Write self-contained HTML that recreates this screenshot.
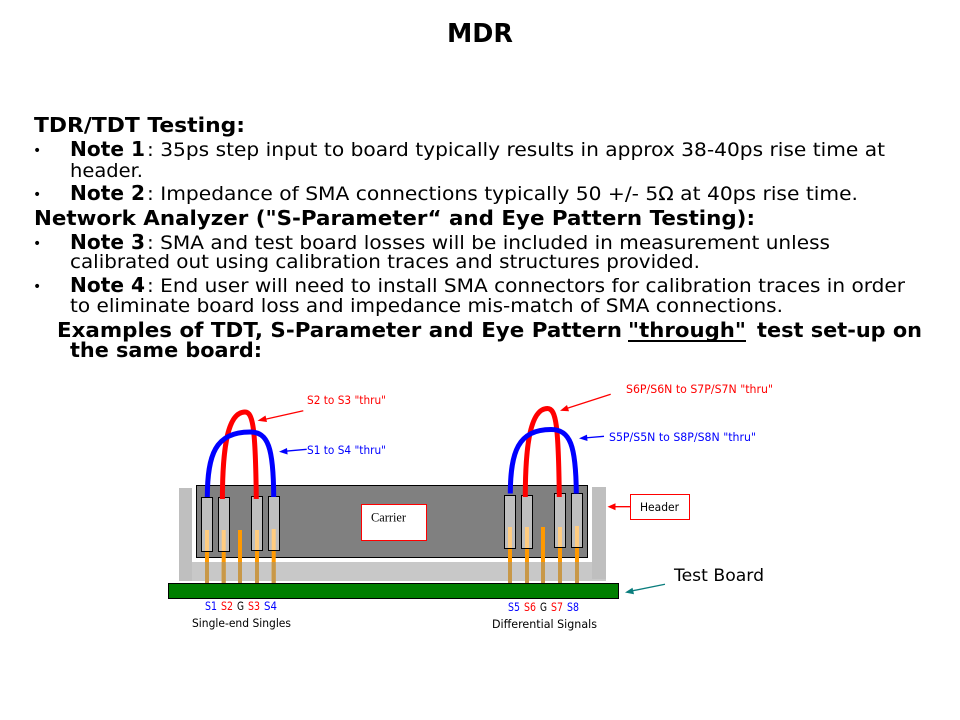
<!DOCTYPE html>
<html><head><meta charset="utf-8"><style>
html,body{margin:0;padding:0;background:#fff;width:960px;height:720px;overflow:hidden}
svg{display:block}
text{font-family:"DejaVu Sans","Liberation Sans",sans-serif;fill:#000}
.h{font-size:20px;font-weight:bold}
.t{font-size:19px}
.b{font-size:14px}
.s{font-size:11.5px}
</style></head><body>
<svg width="960" height="720" viewBox="0 0 960 720" xmlns="http://www.w3.org/2000/svg">

<text x="447" y="42" class="h" style="font-size:26px" textLength="66" lengthAdjust="spacingAndGlyphs">MDR</text>

<text x="34" y="132" class="h" textLength="211" lengthAdjust="spacingAndGlyphs">TDR/TDT Testing:</text>
<text x="33" y="155" class="b">•</text>
<text x="70" y="156" class="h" textLength="75" lengthAdjust="spacingAndGlyphs">Note 1</text>
<text x="147" y="156" class="t" textLength="738" lengthAdjust="spacingAndGlyphs">: 35ps step input to board typically results in approx 38-40ps rise time at</text>
<text x="70" y="177" class="t" textLength="73" lengthAdjust="spacingAndGlyphs">header.</text>
<text x="33" y="199" class="b">•</text>
<text x="70" y="200" class="h" textLength="75" lengthAdjust="spacingAndGlyphs">Note 2</text>
<text x="147" y="200" class="t" textLength="711" lengthAdjust="spacingAndGlyphs">: Impedance of SMA connections typically 50 +/- 5Ω at 40ps rise time.</text>
<text x="34" y="225" class="h" textLength="721" lengthAdjust="spacingAndGlyphs">Network Analyzer ("S-Parameter“ and Eye Pattern Testing):</text>
<text x="33" y="248" class="b">•</text>
<text x="70" y="249" class="h" textLength="75" lengthAdjust="spacingAndGlyphs">Note 3</text>
<text x="147" y="249" class="t" textLength="683" lengthAdjust="spacingAndGlyphs">: SMA and test board losses will be included in measurement unless</text>
<text x="70" y="268" class="t" textLength="630" lengthAdjust="spacingAndGlyphs">calibrated out using calibration traces and structures provided.</text>
<text x="33" y="291" class="b">•</text>
<text x="70" y="292" class="h" textLength="75" lengthAdjust="spacingAndGlyphs">Note 4</text>
<text x="147" y="292" class="t" textLength="758" lengthAdjust="spacingAndGlyphs">: End user will need to install SMA connectors for calibration traces in order</text>
<text x="70" y="312" class="t" textLength="713" lengthAdjust="spacingAndGlyphs">to eliminate board loss and impedance mis-match of SMA connections.</text>
<text x="57" y="337" class="h" textLength="565" lengthAdjust="spacingAndGlyphs">Examples of TDT, S-Parameter and Eye Pattern</text>
<text x="628" y="337" class="h" textLength="118" lengthAdjust="spacingAndGlyphs">"through"</text>
<rect x="628" y="340" width="118" height="2" fill="#000"/>
<text x="757" y="337" class="h" textLength="165" lengthAdjust="spacingAndGlyphs">test set-up on</text>
<text x="70" y="357" class="h" textLength="192" lengthAdjust="spacingAndGlyphs">the same board:</text>

<!-- base -->
<rect x="179" y="488" width="13" height="93" fill="#bfbfbf"/>
<rect x="192" y="562" width="414" height="19" fill="#c8c8c8"/>
<rect x="592" y="487" width="14" height="92" fill="#bfbfbf"/>
<rect x="196.5" y="485.5" width="391" height="72" fill="#808080" stroke="#000" stroke-width="1"/>
<rect x="168.5" y="583.5" width="450" height="15" fill="#007f00" stroke="#000" stroke-width="1"/>
<rect x="361.5" y="504.5" width="65" height="36" fill="#fff" stroke="#f00" stroke-width="1"/>
<text x="371" y="521.5" style="font-family:'Liberation Serif',serif;font-size:12.5px" textLength="35" lengthAdjust="spacingAndGlyphs">Carrier</text>

<!-- pins -->
<g fill="#bfbfbf" stroke="#000" stroke-width="1">
<rect x="201.5" y="497.5" width="11" height="54"/>
<rect x="218.5" y="497.5" width="11" height="54"/>
<rect x="251.5" y="496.5" width="11" height="54"/>
<rect x="268.5" y="496.5" width="11" height="54"/>
<rect x="504.5" y="495.5" width="11" height="53"/>
<rect x="521.5" y="495.5" width="11" height="53"/>
<rect x="554.5" y="493.5" width="11" height="54"/>
<rect x="571.5" y="493.5" width="11" height="54"/>
</g>
<g fill="#f90">
<rect x="205" y="552" width="4" height="31"/>
<rect x="221.7" y="552" width="4" height="31"/>
<rect x="238" y="530" width="4" height="53"/>
<rect x="255" y="551" width="4" height="32"/>
<rect x="271.7" y="551" width="4" height="32"/>
<rect x="508" y="549" width="4" height="34"/>
<rect x="525" y="549" width="4" height="34"/>
<rect x="541" y="527" width="4" height="56"/>
<rect x="558" y="548" width="4" height="35"/>
<rect x="575" y="548" width="4" height="35"/>
</g>
<g fill="#ffcc80">
<rect x="205" y="530" width="4" height="21"/>
<rect x="221.7" y="530" width="4" height="21"/>
<rect x="255" y="530" width="4" height="20"/>
<rect x="271.7" y="529" width="4" height="21"/>
<rect x="508" y="527" width="4" height="21"/>
<rect x="525" y="527" width="4" height="21"/>
<rect x="558" y="527" width="4" height="20"/>
<rect x="575" y="526" width="4" height="21"/>
</g>
<g fill="#c89848">
<rect x="205" y="562" width="4" height="21"/>
<rect x="221.7" y="562" width="4" height="21"/>
<rect x="238" y="562" width="4" height="21"/>
<rect x="255" y="562" width="4" height="21"/>
<rect x="271.7" y="562" width="4" height="21"/>
<rect x="508" y="562" width="4" height="21"/>
<rect x="525" y="562" width="4" height="21"/>
<rect x="541" y="562" width="4" height="21"/>
<rect x="558" y="562" width="4" height="21"/>
<rect x="575" y="562" width="4" height="21"/>
</g>

<!-- wires -->
<g fill="none" stroke-width="5">
<path d="M222.4 499C222.5 455 226 412 245 412C253 412 255.5 428 256.3 499" stroke="#f00"/>
<path d="M207.3 497C207.5 455 215 432 250 432C268 432 273.5 447 273.7 497" stroke="#00f"/>
<path d="M525.3 497C525.3 452 529 408.5 547.5 408.5C556 408.5 558.5 425 559.3 497" stroke="#f00"/>
<path d="M510.3 493.5C510.5 452 518 429.5 551 429.5C570 429.5 576 445 576.3 493.5" stroke="#00f"/>
</g>

<!-- arrows -->
<g stroke-width="1.3" fill="none">
<line x1="303.3" y1="410.7" x2="262" y2="420" stroke="#f00"/>
<line x1="306.7" y1="449.3" x2="284" y2="451.3" stroke="#00f"/>
<line x1="610.7" y1="394.3" x2="565" y2="409" stroke="#f00"/>
<line x1="604" y1="436.3" x2="584" y2="438" stroke="#00f"/>
<line x1="630" y1="506.7" x2="612" y2="506.7" stroke="#f00"/>
<line x1="665" y1="584.3" x2="630" y2="591.3" stroke="#0a7d7d"/>
</g>
<polygon points="257.5,420.8 265.5,415.5 267,422" fill="#f00"/>
<polygon points="279,451.8 287,448 287.6,454.5" fill="#00f"/>
<polygon points="560,410.7 567,405 569,411.3" fill="#f00"/>
<polygon points="579,438.4 587,434.6 587.5,441" fill="#00f"/>
<polygon points="607.5,506.7 615.5,503.2 615.5,510.2" fill="#f00"/>
<polygon points="625,592.5 632.5,587.7 634,594.3" fill="#0a7d7d"/>

<rect x="630.5" y="494.5" width="59" height="25" fill="#fff" stroke="#f00" stroke-width="1"/>
<text x="640" y="511" class="s" textLength="39" lengthAdjust="spacingAndGlyphs">Header</text>

<text x="307" y="404" class="s" style="fill:#f00" textLength="79" lengthAdjust="spacingAndGlyphs">S2 to S3 "thru"</text>
<text x="307" y="454" class="s" style="fill:#00f" textLength="79" lengthAdjust="spacingAndGlyphs">S1 to S4 "thru"</text>
<text x="626" y="393" class="s" style="fill:#f00" textLength="147" lengthAdjust="spacingAndGlyphs">S6P/S6N to S7P/S7N "thru"</text>
<text x="609" y="441" class="s" style="fill:#00f" textLength="147" lengthAdjust="spacingAndGlyphs">S5P/S5N to S8P/S8N "thru"</text>
<text x="205" y="610" class="s" style="fill:#00f" textLength="12" lengthAdjust="spacingAndGlyphs">S1</text>
<text x="221" y="610" class="s" style="fill:#f00" textLength="12" lengthAdjust="spacingAndGlyphs">S2</text>
<text x="237" y="610" class="s" textLength="7" lengthAdjust="spacingAndGlyphs">G</text>
<text x="248" y="610" class="s" style="fill:#f00" textLength="12" lengthAdjust="spacingAndGlyphs">S3</text>
<text x="264" y="610" class="s" style="fill:#00f" textLength="13" lengthAdjust="spacingAndGlyphs">S4</text>
<text x="192" y="627" class="s" textLength="99" lengthAdjust="spacingAndGlyphs">Single-end Singles</text>
<text x="508" y="611" class="s" style="fill:#00f" textLength="12" lengthAdjust="spacingAndGlyphs">S5</text>
<text x="524" y="611" class="s" style="fill:#f00" textLength="12" lengthAdjust="spacingAndGlyphs">S6</text>
<text x="540" y="611" class="s" textLength="7" lengthAdjust="spacingAndGlyphs">G</text>
<text x="551" y="611" class="s" style="fill:#f00" textLength="12" lengthAdjust="spacingAndGlyphs">S7</text>
<text x="567" y="611" class="s" style="fill:#00f" textLength="12" lengthAdjust="spacingAndGlyphs">S8</text>
<text x="492" y="628" class="s" textLength="105" lengthAdjust="spacingAndGlyphs">Differential Signals</text>
<text x="674" y="581" style="font-size:16.5px" textLength="90" lengthAdjust="spacingAndGlyphs">Test Board</text>
</svg>
</body></html>
